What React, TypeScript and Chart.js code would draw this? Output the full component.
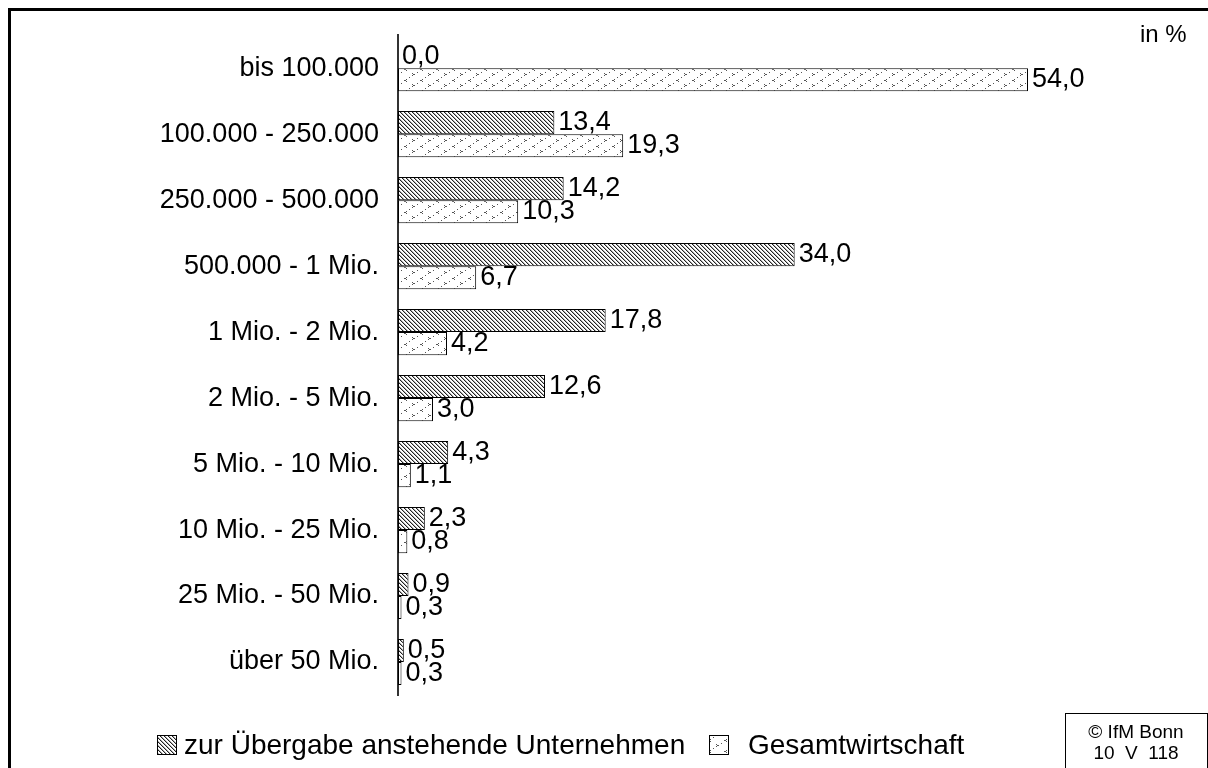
import React, { useEffect, useRef } from "react";
import { Chart, registerables } from "chart.js";

Chart.register(...registerables);

const categories = [
  "bis 100.000",
  "100.000 - 250.000",
  "250.000 - 500.000",
  "500.000 - 1 Mio.",
  "1 Mio. - 2 Mio.",
  "2 Mio. - 5 Mio.",
  "5 Mio. - 10 Mio.",
  "10 Mio. - 25 Mio.",
  "25 Mio. - 50 Mio.",
  "über 50 Mio.",
];
const seriesNames = ["zur Übergabe anstehende Unternehmen", "Gesamtwirtschaft"];
const uebergabeValues = [0.0, 13.4, 14.2, 34.0, 17.8, 12.6, 4.3, 2.3, 0.9, 0.5];
const gesamtValues = [54.0, 19.3, 10.3, 6.7, 4.2, 3.0, 1.1, 0.8, 0.3, 0.3];
const unitLabel = "in %";
const sourceLines = ["© IfM Bonn", "10  V  118"];

const FONT = '"Liberation Sans", Arial, sans-serif';

function makeHatch(): CanvasPattern | string {
  const c = document.createElement("canvas");
  c.width = 4;
  c.height = 4;
  const g = c.getContext("2d");
  if (!g) return "#888";
  g.fillStyle = "#fff";
  g.fillRect(0, 0, 4, 4);
  for (let y = 0; y < 4; y++) {
    for (let x = 0; x < 4; x++) {
      const m = (((x - y) % 4) + 4) % 4;
      if (m === 0) {
        g.fillStyle = "#222";
        g.fillRect(x, y, 1, 1);
      } else if (m === 1) {
        g.fillStyle = "#b0b0b0";
        g.fillRect(x, y, 1, 1);
      }
    }
  }
  return g.createPattern(c, "repeat") || "#888";
}

function makeDots(): CanvasPattern | string {
  const c = document.createElement("canvas");
  c.width = 16;
  c.height = 11;
  const g = c.getContext("2d");
  if (!g) return "#eee";
  g.fillStyle = "#fff";
  g.fillRect(0, 0, 16, 11);
  g.fillStyle = "#555";
  const px = [
    [6, 2], [5, 3], [4, 3], [6, 4],
    [12, 7], [13, 8], [14, 8], [12, 9],
    [1, 6], [9, 0],
  ];
  px.forEach(([x, y]) => g.fillRect(x, y, 1, 1));
  return g.createPattern(c, "repeat") || "#eee";
}

export default function App() {
  const ref = useRef<HTMLCanvasElement | null>(null);

  useEffect(() => {
    if (!ref.current) return;
    const hatch = makeHatch();
    const dots = makeDots();

    const decor = {
      id: "decor",
      beforeDraw(chart: any) {
        const ctx = chart.ctx;
        ctx.save();
        ctx.strokeStyle = "#000";
        ctx.lineWidth = 3;
        ctx.beginPath();
        ctx.moveTo(9.5, 800);
        ctx.lineTo(9.5, 9.5);
        ctx.lineTo(1300, 9.5);
        ctx.stroke();
        ctx.restore();
      },
      afterDraw(chart: any) {
        const ctx = chart.ctx;
        ctx.save();
        // value labels
        ctx.fillStyle = "#000";
        ctx.font = `27px ${FONT}`;
        ctx.textAlign = "left";
        ctx.textBaseline = "middle";
        chart.data.datasets.forEach((ds: any, di: number) => {
          const meta = chart.getDatasetMeta(di);
          meta.data.forEach((bar: any, i: number) => {
            const v = ds.data[i] as number;
            const txt = v.toFixed(1).replace(".", ",");
            ctx.fillText(txt, bar.x + 4, bar.y);
          });
        });
        // unit label
        ctx.textAlign = "left";
        ctx.font = `24px ${FONT}`;
        ctx.fillText(unitLabel, 1140, 35);
        // legend
        const fills = [hatch, dots];
        const boxX = [157, 709];
        const textX = [184, 748];
        ctx.font = `28px ${FONT}`;
        for (let k = 0; k < 2; k++) {
          ctx.fillStyle = fills[k] as any;
          ctx.fillRect(boxX[k], 735, 20, 20);
          ctx.strokeStyle = "#000";
          ctx.lineWidth = 1;
          ctx.strokeRect(boxX[k] + 0.5, 735.5, 19, 19);
          ctx.fillStyle = "#000";
          ctx.fillText(seriesNames[k], textX[k], 746);
        }
        // source box
        ctx.strokeStyle = "#000";
        ctx.lineWidth = 1;
        ctx.strokeRect(1065.5, 713.5, 142, 80);
        ctx.font = `19px ${FONT}`;
        ctx.textAlign = "center";
        ctx.fillText(sourceLines[0], 1136, 733);
        ctx.fillText(sourceLines[1], 1136, 754);
        ctx.restore();
      },
    };

    const chart = new Chart(ref.current, {
      type: "bar",
      data: {
        labels: categories,
        datasets: [
          {
            label: seriesNames[0],
            data: uebergabeValues,
            backgroundColor: hatch as any,
            borderColor: "#000",
            borderWidth: 1,
            borderSkipped: false,
            categoryPercentage: 0.7,
            barPercentage: 1,
          },
          {
            label: seriesNames[1],
            data: gesamtValues,
            backgroundColor: dots as any,
            borderColor: "#000",
            borderWidth: 1,
            borderSkipped: false,
            categoryPercentage: 0.7,
            barPercentage: 1,
          },
        ],
      },
      options: {
        indexAxis: "y",
        animation: false,
        responsive: true,
        maintainAspectRatio: false,
        layout: { padding: { top: 35, bottom: 73, right: 110, left: 0 } },
        plugins: {
          legend: { display: false },
          tooltip: { enabled: false },
        },
        scales: {
          x: {
            display: false,
            min: 0,
            max: 60,
          },
          y: {
            grid: { display: false, drawTicks: false },
            border: { display: true, color: "#333", width: 2 },
            ticks: {
              color: "#000",
              padding: 19,
              font: { family: FONT, size: 27 },
            },
            afterFit: (scale: any) => {
              scale.width = 398;
            },
          },
        },
      },
      plugins: [decor],
    });
    return () => chart.destroy();
  }, []);

  return (
    <div
      style={{
        position: "fixed",
        left: 0,
        top: 0,
        width: 1208,
        height: 768,
        background: "#fff",
        overflow: "hidden",
      }}
    >
      <canvas ref={ref} />
    </div>
  );
}
